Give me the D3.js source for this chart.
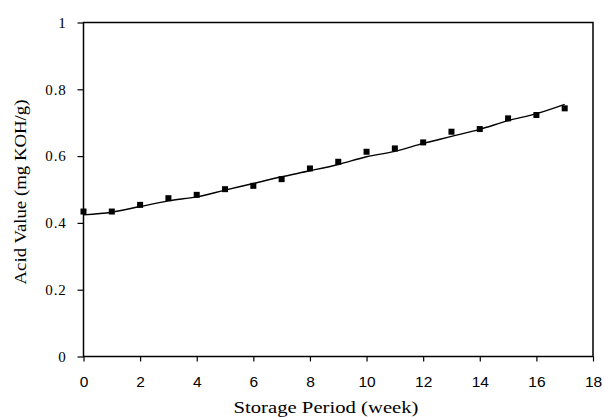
<!DOCTYPE html>
<html>
<head>
<meta charset="utf-8">
<script src="https://cdnjs.cloudflare.com/ajax/libs/d3/7.8.5/d3.min.js"></script>
<style>
  body { margin: 0; background: #fff; }
  svg { display: block; }
</style>
</head>
<body>
<div id="chart"></div>
<script>
  // measured acid values per storage week
  var weeks = [0, 1, 2, 3, 4, 5, 6, 7, 8, 9, 10, 11, 12, 13, 14, 15, 16, 17];
  var acidValues = [0.434, 0.434, 0.454, 0.474, 0.484, 0.501, 0.511, 0.531, 0.563, 0.583,
                    0.613, 0.623, 0.641, 0.673, 0.681, 0.713, 0.723, 0.743];

  // fitted curve at each week
  var fitWeeks = [0, 1, 2, 3, 4, 5, 6, 7, 8, 9, 10, 11, 12, 13, 14, 15, 16, 17];
  var fitValues = [0.424, 0.432, 0.449, 0.466, 0.478, 0.498, 0.518, 0.538, 0.556, 0.575,
                   0.598, 0.614, 0.638, 0.659, 0.680, 0.706, 0.727, 0.755];

  var xTicks = [0, 2, 4, 6, 8, 10, 12, 14, 16, 18];
  var yTicks = [0, 0.2, 0.4, 0.6, 0.8, 1];

  var width = 604, height = 417;
  var margin = { left: 83.5, right: 11, top: 22.5, bottom: 60.5 };

  var svg = d3.select("#chart").append("svg")
    .attr("width", width)
    .attr("height", height);

  var x = d3.scaleLinear().domain([0, 18]).range([margin.left, width - margin.right]);
  var y = d3.scaleLinear().domain([0, 1]).range([height - margin.bottom, margin.top]);

  // plot frame
  svg.append("rect")
    .attr("x", x(0))
    .attr("y", y(1))
    .attr("width", x(18) - x(0))
    .attr("height", y(0) - y(1))
    .style("fill", "none")
    .style("stroke", "#000")
    .style("stroke-width", 1.5);

  // y axis
  var yAxis = svg.append("g")
    .attr("transform", "translate(" + x(0) + ",0)")
    .call(d3.axisLeft(y).tickValues(yTicks).tickSize(6).tickPadding(11)
      .tickFormat(function (d) { return d3.format("~g")(d); }));
  yAxis.select(".domain").remove();
  yAxis.selectAll("line").style("stroke", "#000").style("stroke-width", 1.2);
  yAxis.selectAll("text")
    .style("font-family", "'Liberation Serif', serif")
    .style("font-size", "15px")
    .style("letter-spacing", "0.8px")
    .style("fill", "#000");

  // x axis
  var xAxis = svg.append("g")
    .attr("transform", "translate(0," + y(0) + ")")
    .call(d3.axisBottom(x).tickValues(xTicks).tickSize(5).tickPadding(14)
      .tickFormat(d3.format("d")));
  xAxis.select(".domain").remove();
  xAxis.selectAll("line").style("stroke", "#000").style("stroke-width", 1.2);
  xAxis.selectAll("text")
    .style("font-family", "'Liberation Sans', Arial, sans-serif")
    .style("font-size", "15.5px")
    .style("fill", "#000");

  // fitted line
  var fitData = fitWeeks.map(function (w, i) { return [w, fitValues[i]]; });
  svg.append("path")
    .datum(fitData)
    .attr("d", d3.line()
      .x(function (d) { return x(d[0]); })
      .y(function (d) { return y(d[1]); })
      .curve(d3.curveMonotoneX))
    .style("fill", "none")
    .style("stroke", "#000")
    .style("stroke-width", 1.4);

  // square markers
  var pts = weeks.map(function (w, i) { return [w, acidValues[i]]; });
  var s = 6;
  svg.selectAll("rect.pt")
    .data(pts)
    .enter()
    .append("rect")
      .attr("class", "pt")
      .attr("x", function (d) { return x(d[0]) - s / 2; })
      .attr("y", function (d) { return y(d[1]) - s / 2; })
      .attr("width", s)
      .attr("height", s)
      .style("fill", "#000");

  // axis titles
  svg.append("text")
    .attr("x", 326)
    .attr("y", 413)
    .attr("text-anchor", "middle")
    .attr("textLength", 185)
    .attr("lengthAdjust", "spacingAndGlyphs")
    .style("font-family", "'Liberation Serif', serif")
    .style("font-size", "17px")
    .text("Storage Period (week)");

  svg.append("text")
    .attr("transform", "translate(26,192) rotate(-90)")
    .attr("text-anchor", "middle")
    .attr("textLength", 185)
    .attr("lengthAdjust", "spacingAndGlyphs")
    .style("font-family", "'Liberation Serif', serif")
    .style("font-size", "17px")
    .text("Acid Value (mg KOH/g)");
</script>
</body>
</html>
